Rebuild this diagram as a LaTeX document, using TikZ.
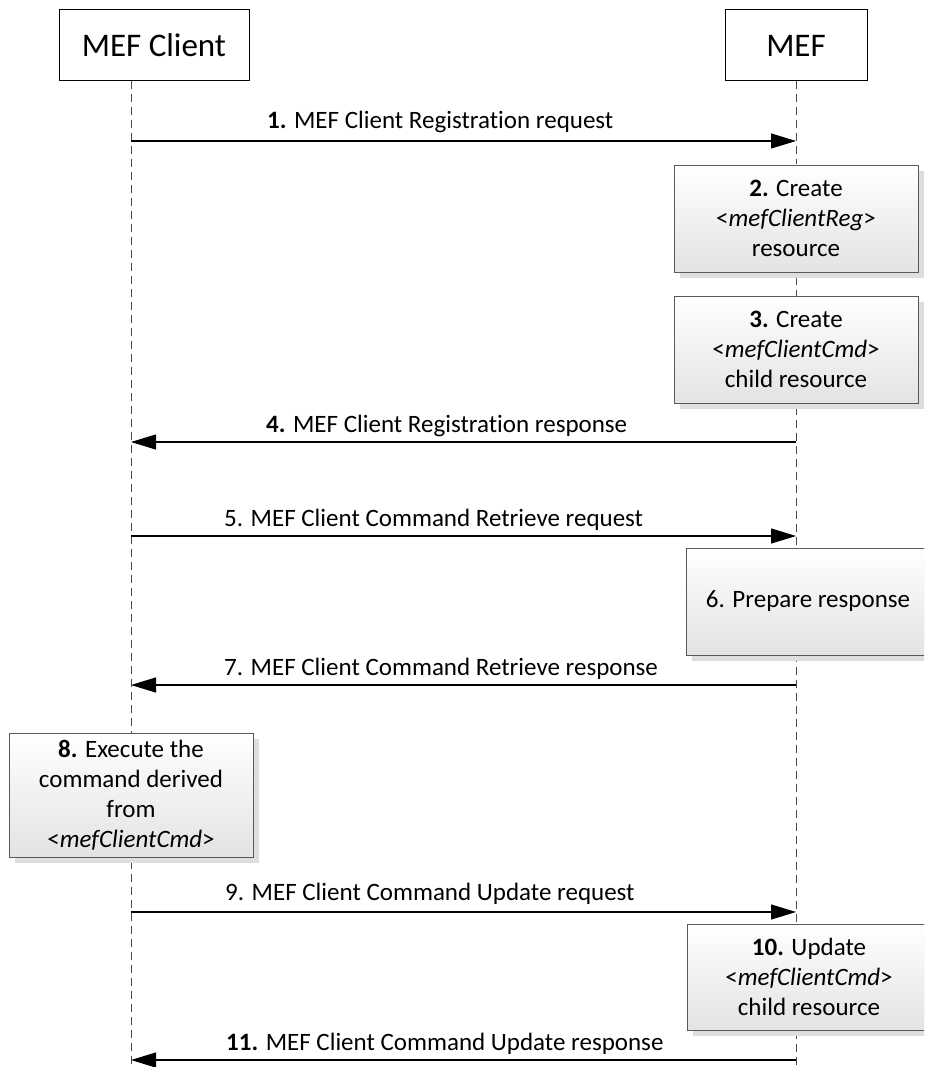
\documentclass[tikz,border=0pt]{standalone}
\usepackage{fontspec}
\setmainfont[Ligatures={NoCommon}]{Carlito}
\usetikzlibrary{arrows.meta,shadows}
\begin{document}
\begin{tikzpicture}[x=1pt,y=-1pt,
  actor/.style={draw=black, line width=1pt, fill=white, minimum height=71pt, inner sep=0pt, font=\fontsize{33}{40}\selectfont},
  lifeline/.style={draw=black!70, line width=0.9pt, dash pattern=on 8pt off 5pt},
  msg/.style={draw=black, line width=1.1pt, -{Triangle[length=25pt,width=15pt]}},
  lbl/.style={inner sep=0pt, font=\fontsize{25}{30}\selectfont, anchor=base west},
  proc/.style={draw=black!65, line width=0.9pt, top color=white, bottom color=black!11, minimum width=244pt, align=center, inner sep=0pt, font=\fontsize{25}{30}\selectfont, drop shadow={shadow xshift=6pt, shadow yshift=-6pt, fill=black!13, opacity=1}},
]
\clip (0,0) rectangle (924,1067);
\fill[white] (0,0) rectangle (924,1067);

% actors
\node[actor, minimum width=190pt] (client) at (154,45.5) {MEF Client};
\node[actor, minimum width=142pt] (mef) at (796,45.5) {MEF};

% lifelines
\coordinate (cTop) at (131,81);
\coordinate (cBot) at (131,1067);
\coordinate (mBot) at (796,1067);
\draw[lifeline] (cTop) -- (cBot);
\draw[lifeline] (mef.south) -- (mBot);

% processing boxes
\node[proc, minimum height=107pt] (p2) at (796,218.5) {\textbf{2.} Create\\<\textit{mefClientReg}>\\resource};
\node[proc, minimum height=107pt] (p3) at (796,349.5) {\textbf{3.} Create\\<\textit{mefClientCmd}>\\child resource};
\node[proc, minimum height=107pt] (p6) at (808,601.5) {6. Prepare response};
\node[proc, minimum height=124pt] (p8) at (131,795) {\textbf{8.} Execute the\\command derived\\from\\<\textit{mefClientCmd}>};
\node[proc, minimum height=106pt] (p10) at (809,977) {\textbf{10.} Update\\<\textit{mefClientCmd}>\\child resource};

% message end points
\coordinate (aL1) at (131,141);  \coordinate (aR1) at (796,141);
\coordinate (aL4) at (131,442);  \coordinate (aR4) at (796,442);
\coordinate (aL5) at (131,536);  \coordinate (aR5) at (796,536);
\coordinate (aL7) at (131,685);  \coordinate (aR7) at (796,685);
\coordinate (aL9) at (131,912);  \coordinate (aR9) at (796,912);
\coordinate (aL11) at (131,1060); \coordinate (aR11) at (796,1060);

% messages
\draw[msg] (aL1) -- (aR1);
\draw[msg] (aR4) -- (aL4);
\draw[msg] (aL5) -- (aR5);
\draw[msg] (aR7) -- (aL7);
\draw[msg] (aL9) -- (aR9);
\draw[msg] (aR11) -- (aL11);

% labels
\node[lbl] (l1) at (267,128.5) {\textbf{1.} MEF Client Registration request};
\node[lbl] (l4) at (266,432) {\textbf{4.} MEF Client Registration response};
\node[lbl] (l5) at (224,526.5) {5. MEF Client Command Retrieve request};
\node[lbl] (l7) at (224,675) {7. MEF Client Command Retrieve response};
\node[lbl] (l9) at (225,900) {9. MEF Client Command Update request};
\node[lbl] (l11) at (226,1050) {\textbf{11.} MEF Client Command Update response};
\end{tikzpicture}
\end{document}
